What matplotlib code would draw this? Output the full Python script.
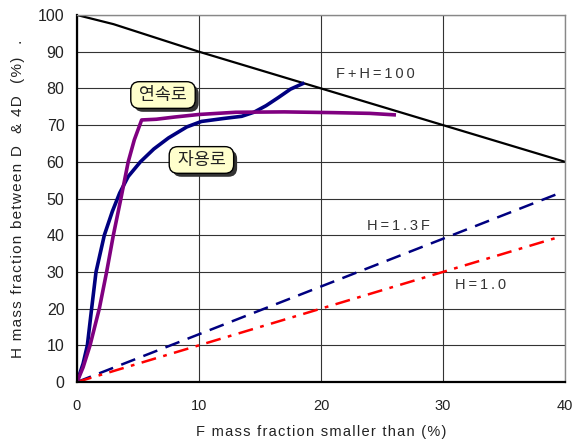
import matplotlib.pyplot as plt
import matplotlib.patheffects as pe

plt.rcParams['font.family'] = ['Liberation Sans', 'Noto Sans CJK KR', 'DejaVu Sans']

# Continuous furnace (연속로)
cont_f = [0, 0.5, 1.07, 1.45, 1.83, 2.43, 2.98, 3.6, 4.2, 4.7, 5.3, 6.5, 8, 10, 13, 17, 21, 24, 26]
cont_h = [0, 4, 10, 15, 20, 30, 40, 50, 60, 66, 71.4, 71.6, 72.2, 72.9, 73.5, 73.6, 73.4, 73.2, 72.8]

# Self-melting furnace (자용로)
self_f = [0, 0.5, 0.85, 1.2, 1.56, 2.24, 2.9, 3.5, 4.2, 5.2, 6.3, 7.5, 9, 10.2, 12, 13.5, 14.5, 15.5, 16.5, 17.5, 18.5]
self_h = [0, 5, 10, 20, 30, 40, 46.5, 51.5, 56, 60, 63.5, 66.5, 69.5, 71, 71.8, 72.4, 73.5, 75.3, 77.5, 79.8, 81.3]

# Reference lines
sum_f = [0, 3, 10, 16, 20, 30, 40]
sum_h = [100, 97.5, 90, 84, 80, 70, 60]
ratio13_f = [0, 39.5]
ratio13_h = [0, 51.4]
ratio10_f = [0, 39.5]
ratio10_h = [0, 39.5]

xticks = [0, 10, 20, 30, 40]
yticks = [0, 10, 20, 30, 40, 50, 60, 70, 80, 90, 100]


def spaced(s, gap='\u200a'):
    # widen the letter spacing a little
    return gap.join(s)


fig = plt.figure(figsize=(5.85, 4.44), dpi=100)
ax = fig.add_axes([0.1316, 0.1396, 0.8342, 0.8266])

ax.plot(sum_f, sum_h, color='black', lw=1.6)
ax.plot(ratio13_f, ratio13_h, color='#000080', lw=1.8, dashes=(6, 3.5))
ax.plot(ratio10_f, ratio10_h, color='red', lw=1.8, dashes=(6, 3, 1.5, 3))
ax.plot(self_f, self_h, color='#000080', lw=2.6)
ax.plot(cont_f, cont_h, color='#800080', lw=2.6)

ax.set_xlim(0, 40)
ax.set_ylim(0, 100)
ax.set_xticks(xticks)
ax.set_yticks(yticks)
ax.set_xticklabels([str(v) for v in xticks])
ax.set_yticklabels([str(v) for v in yticks])
ax.grid(True, color='#333333', lw=0.8)
ax.set_axisbelow(True)
for side in ['top', 'right']:
    ax.spines[side].set_color('#888888')
    ax.spines[side].set_linewidth(1.0)
for side in ['left', 'bottom']:
    ax.spines[side].set_color('black')
    ax.spines[side].set_linewidth(1.6)
ax.tick_params(axis='x', labelsize=10.5, labelcolor='#222222', length=0, pad=12)
ax.tick_params(axis='y', labelsize=11.5, labelcolor='#222222', length=0, pad=9)

ax.set_xlabel(spaced('F mass fraction smaller than (%)'), fontsize=10.5,
              color='#222222', labelpad=9)
ax.set_ylabel(spaced('H mass fraction between D  & 4D  (%)') + '   .', fontsize=11,
              color='#222222', labelpad=9)

ax.text(21.2, 84, spaced('F+H=100', '\u2009'), fontsize=10.5, color='#333333', va='center')
ax.text(23.8, 42.5, spaced('H=1.3F', '\u2009'), fontsize=10.5, color='#333333', va='center')
ax.text(31.0, 26.5, spaced('H=1.0', '\u2009'), fontsize=10.5, color='#333333', va='center')

# Callout boxes with drop shadow
for x, y, label in [(7.05, 78.2, '연속로'), (10.2, 60.5, '자용로')]:
    t = ax.text(x, y, ' ' + label + ' ', fontsize=12.5, ha='center', va='center',
                color='#222222', family=['Noto Sans CJK KR'],
                bbox=dict(boxstyle='round,pad=0.25,rounding_size=0.5',
                          fc='#FFFFCC', ec='black', lw=1))
    t.get_bbox_patch().set_path_effects([
        pe.SimplePatchShadow(offset=(2.5, -2.5), shadow_rgbFace='#333333', alpha=1.0),
        pe.Normal()])

fig.savefig('out.png', dpi=100)
